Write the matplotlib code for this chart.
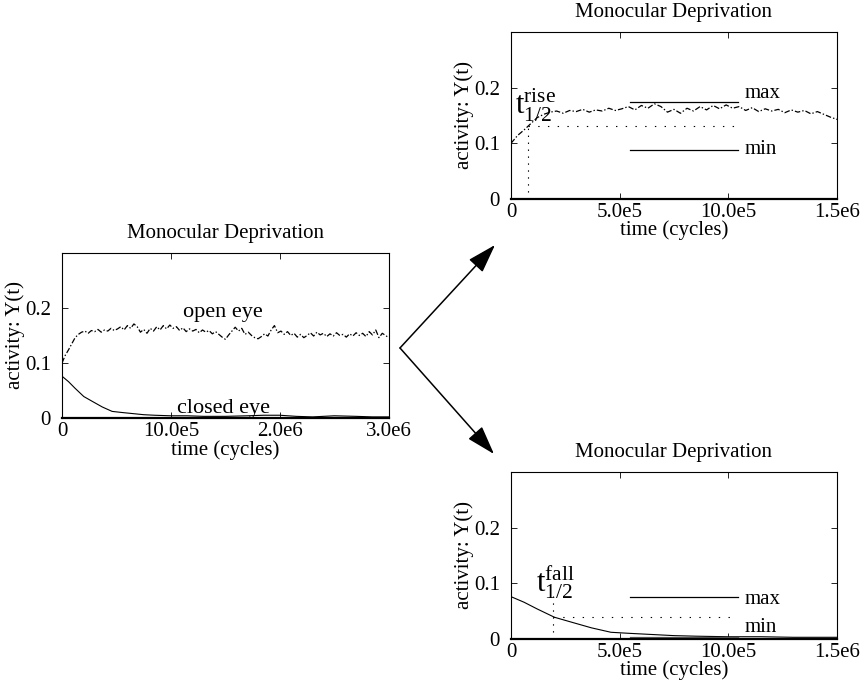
import numpy as np
import matplotlib
matplotlib.use("Agg")
import matplotlib.pyplot as plt
from matplotlib.patches import FancyArrowPatch

plt.rcParams['font.family'] = ['Liberation Serif', 'DejaVu Serif']
plt.rcParams['mathtext.fontset'] = 'custom'
plt.rcParams['mathtext.rm'] = 'Liberation Serif'
plt.rcParams['mathtext.it'] = 'Liberation Serif:italic'
plt.rcParams['lines.scale_dashes'] = False

# open eye activity, time in units of 1e6 cycles
t_open = np.arange(0, 3.0001, 0.03)
y_open = [0.100, 0.114, 0.124, 0.135, 0.146, 0.152, 0.156, 0.158, 0.154, 0.159,
          0.157, 0.161, 0.156, 0.160, 0.158, 0.163, 0.159, 0.162, 0.166, 0.160,
          0.168, 0.163, 0.171, 0.166, 0.156, 0.161, 0.154, 0.163, 0.158, 0.166,
          0.160, 0.168, 0.162, 0.169, 0.163, 0.166, 0.159, 0.164, 0.157, 0.162,
          0.158, 0.161, 0.155, 0.160, 0.156, 0.159, 0.153, 0.157, 0.152, 0.147,
          0.143, 0.151, 0.158, 0.165, 0.158, 0.163, 0.152, 0.156, 0.150, 0.146,
          0.144, 0.148, 0.153, 0.149, 0.160, 0.168, 0.155, 0.158, 0.152, 0.157,
          0.150, 0.154, 0.147, 0.152, 0.146, 0.150, 0.155, 0.149, 0.156, 0.151,
          0.154, 0.148, 0.153, 0.149, 0.155, 0.150, 0.152, 0.147, 0.153, 0.149,
          0.155, 0.150, 0.154, 0.148, 0.157, 0.151, 0.160, 0.146, 0.154, 0.150,
          0.146]

# closed eye activity
t_closed = [0.00, 0.06, 0.12, 0.20, 0.28, 0.37, 0.46, 0.55, 0.65, 0.75, 0.85,
            1.00, 1.15, 1.30, 1.50, 1.70, 1.85, 2.00, 2.15, 2.30, 2.50, 2.70,
            2.85, 3.00]
y_closed = [0.076, 0.066, 0.054, 0.039, 0.030, 0.020, 0.012, 0.010, 0.008, 0.006,
            0.005, 0.004, 0.004, 0.003, 0.003, 0.004, 0.005, 0.005, 0.003, 0.002,
            0.004, 0.003, 0.002, 0.002]

# rise / fall half-time markers
rise_max, rise_min, t_rise = 0.174, 0.088, 0.077
fall_max, fall_min, t_fall = 0.076, 0.003, 0.195
seg_x = [0.548, 1.045]

t_open = np.array(t_open) * 1e6
t_closed = np.array(t_closed) * 1e6

fig = plt.figure(figsize=(8.6, 6.94), dpi=100)

def style_axes(ax, xmax, xticks, xlabels):
    ax.set_xlim(0, xmax)
    ax.set_ylim(0, 0.3)
    ax.set_xticks(xticks)
    ax.set_xticklabels(xlabels)
    ax.set_yticks([0, 0.1, 0.2])
    ax.set_yticklabels(['0', '0.1', '0.2'])
    ax.tick_params(direction='in', top=True, right=True, length=4, width=0.6,
                   labelsize=15, pad=3)
    ax.tick_params(axis='y', pad=8)
    for s in ax.spines.values():
        s.set_linewidth(0.8)
    ax.spines['bottom'].set_linewidth(1.6)
    ax.set_title('Monocular Deprivation', fontsize=15, pad=11)
    ax.set_xlabel('time (cycles)', fontsize=15, labelpad=-1)
    ax.set_ylabel('activity: Y(t)', fontsize=15, labelpad=0)

open_style = dict(color='black', lw=0.9, linestyle=(0, (4, 1.5, 1, 1.5)))

# left: full run
ax1 = fig.add_axes([0.0721, 0.3977, 0.380, 0.2378])
ax1.plot(t_open, y_open, **open_style)
ax1.plot(t_closed, y_closed, color='black', lw=0.8)
style_axes(ax1, 3.0e6, [0, 1e6, 2e6, 3e6], ['0', '10.0e5', '2.0e6', '3.0e6'])
ax1.text(1.477e6, 0.191, 'open eye', fontsize=16, ha='center', va='center')
ax1.text(1.48e6, 0.017, 'closed eye', fontsize=16, ha='center', va='center')

# top right: open eye rise
ax2 = fig.add_axes([0.5942, 0.7133, 0.379, 0.2406])
ax2.plot(t_open, y_open, **open_style)
style_axes(ax2, 1.5e6, [0, 0.5e6, 1e6, 1.5e6], ['0', '5.0e5', '10.0e5', '1.5e6'])
rise_half = (rise_max + rise_min) / 2
ax2.plot(np.array(seg_x) * 1e6, [rise_max] * 2, color='black', lw=0.9)
ax2.plot(np.array(seg_x) * 1e6, [rise_min] * 2, color='black', lw=0.9)
ax2.plot([t_rise * 1e6, 1.05e6], [rise_half] * 2, color='black', lw=0.8,
         linestyle=(0, (1, 6)))
ax2.plot([t_rise * 1e6] * 2, [0, rise_half + 0.004], color='black', lw=0.8,
         linestyle=(0, (1, 4)))
ax2.text(1.077e6, rise_max + 0.016, 'max', fontsize=15, va='center')
ax2.text(1.077e6, rise_min, 'min', fontsize=15, va='center')
ax2.text(0.02e6, 0.168, r'$\mathrm{t}^{\mathrm{rise}}_{1/2}$', fontsize=22,
         ha='left', va='center')

# bottom right: closed eye fall
ax3 = fig.add_axes([0.5942, 0.0793, 0.379, 0.2406])
ax3.plot(t_closed, y_closed, color='black', lw=0.8)
style_axes(ax3, 1.5e6, [0, 0.5e6, 1e6, 1.5e6], ['0', '5.0e5', '10.0e5', '1.5e6'])
fall_half = (fall_max + fall_min) / 2
ax3.plot(np.array(seg_x) * 1e6, [fall_max] * 2, color='black', lw=0.9)
ax3.plot(np.array(seg_x) * 1e6, [fall_min] * 2, color='0.35', lw=0.9)
ax3.plot([t_fall * 1e6, 1.02e6], [fall_half] * 2, color='black', lw=0.8,
         linestyle=(0, (1, 6)))
ax3.plot([t_fall * 1e6] * 2, [0, 0.078], color='black', lw=0.8,
         linestyle=(0, (1, 4)))
ax3.text(1.077e6, fall_max - 0.005, 'max', fontsize=15, va='center')
ax3.text(1.077e6, fall_min + 0.018, 'min', fontsize=15, va='center')
ax3.text(0.115e6, 0.103, r'$\mathrm{t}^{\mathrm{fall}}_{1/2}$', fontsize=22,
         ha='left', va='center')

# arrows from the left panel to the two zoomed panels
vertex = (0.4651, 0.4986)
for tip in [(0.5756, 0.6470), (0.5744, 0.3458)]:
    arr = FancyArrowPatch(vertex, tip, transform=fig.transFigure,
                          arrowstyle='-|>,head_length=1.0,head_width=0.32',
                          mutation_scale=18, color='black', lw=1.1,
                          shrinkA=0, shrinkB=0)
    fig.add_artist(arr)

fig.savefig('out.png', dpi=100)
